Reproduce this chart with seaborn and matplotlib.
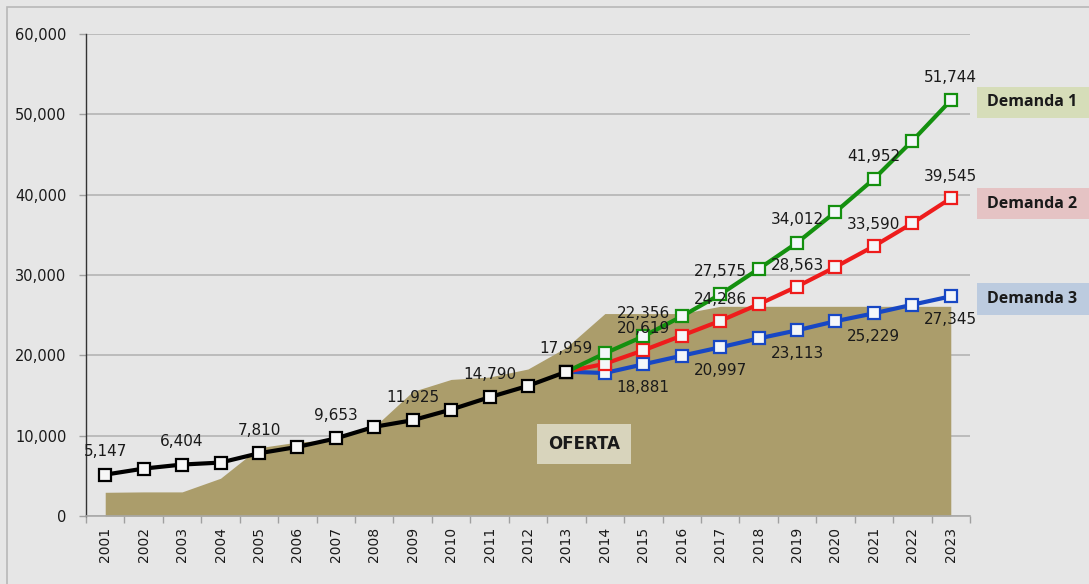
import numpy as np
import pandas as pd
import matplotlib
matplotlib.use("Agg")
import matplotlib.pyplot as plt
from matplotlib.patches import Rectangle
import seaborn as sns

# ---- data ---------------------------------------------------------------
years = list(range(2001, 2024))
hist_years = list(range(2001, 2014))
proj_years = list(range(2013, 2024))

historico = [5147, 5900, 6404, 6650, 7810, 8600, 9653, 11100, 11925, 13250,
             14790, 16200, 17959]
demanda1 = [17959, 20250, 22356, 24850, 27575, 30750, 34012, 37850, 41952,
            46700, 51744]
demanda2 = [17959, 18950, 20619, 22450, 24286, 26350, 28563, 31000, 33590,
            36450, 39545]
demanda3 = [17959, 17800, 18881, 19950, 20997, 22100, 23113, 24250, 25229,
            26300, 27345]
oferta = [2950, 3000, 3000, 4700, 8500, 9200, 9500, 11100, 15500, 17000,
          17300, 18300, 21000, 25200, 25200, 25200, 26100, 26100, 26100,
          26100, 26100, 26100, 26100]

hist_label_years = [2001, 2003, 2005, 2007, 2009, 2011, 2013]
proj_label_years = [2015, 2017, 2019, 2021, 2023]
series_names = ["Demanda 1", "Demanda 2", "Demanda 3"]

# ---- style --------------------------------------------------------------
BG = "#e6e6e6"
sns.set_theme(style="white")
plt.rcParams["font.family"] = ["DejaVu Sans"]

fig = plt.figure(figsize=(10.89, 5.84), dpi=100, facecolor=BG)
ax = fig.add_axes([86 / 1089, 1 - 516 / 584, (970 - 86) / 1089, (516 - 34) / 584])
ax.set_facecolor(BG)

pos = {y: i for i, y in enumerate(years)}

# supply area
ax.fill_between([pos[y] for y in years], oferta, 0, color="#ab9d6b",
                linewidth=0, zorder=1)

line_colors = ["#14900f", "#ee1c1c", "#1747c4"]
proj = pd.DataFrame({
    "x": [pos[y] for y in proj_years] * 3,
    "valor": demanda1 + demanda2 + demanda3,
    "serie": sum([[n] * len(proj_years) for n in series_names], []),
})
hist = pd.DataFrame({"x": [pos[y] for y in hist_years], "valor": historico})

for name, col in zip(series_names[::-1], line_colors[::-1]):
    sns.lineplot(data=proj[proj["serie"] == name], x="x", y="valor", ax=ax,
                 color=col, linewidth=3.0, marker="s", markersize=9,
                 markerfacecolor="#f4f7fa", markeredgecolor=col,
                 markeredgewidth=1.6, zorder=3, legend=False)
sns.lineplot(data=hist, x="x", y="valor", ax=ax, color="black", linewidth=3.0,
             marker="s", markersize=9, markerfacecolor="#f7f7f7",
             markeredgecolor="black", markeredgewidth=1.6, zorder=4,
             legend=False)

# value labels
lab_kw = dict(textcoords="offset points", ha="center", va="center",
              fontsize=11, color="#1a1a1a", zorder=6)
for y in hist_label_years:
    v = historico[hist_years.index(y)]
    ax.annotate(f"{v:,}", (pos[y], v), xytext=(0, 16.5), **lab_kw)
for y in proj_label_years:
    i = proj_years.index(y)
    ax.annotate(f"{demanda1[i]:,}", (pos[y], demanda1[i]), xytext=(0, 16.5), **lab_kw)
    ax.annotate(f"{demanda2[i]:,}", (pos[y], demanda2[i]), xytext=(0, 15.5), **lab_kw)
    ax.annotate(f"{demanda3[i]:,}", (pos[y], demanda3[i]), xytext=(0, -16.5), **lab_kw)

# axes
ax.set_xlim(-0.5, len(years) - 0.5)
ax.set_ylim(0, 60000)
ax.set_yticks(np.arange(0, 60001, 10000))
ax.set_yticklabels([f"{v:,}" for v in range(0, 60001, 10000)], fontsize=10.5,
                   color="#1a1a1a")
ax.set_xticks(range(len(years)))
ax.set_xticklabels([str(y) for y in years], rotation=90, fontsize=10,
                   color="#1a1a1a")
ax.set_xticks(np.arange(-0.5, len(years), 1), minor=True)
ax.tick_params(axis="x", which="major", length=0, pad=8)
ax.tick_params(axis="x", which="minor", length=5, width=1, color="#a0a0a0",
               direction="out", bottom=True)
ax.tick_params(axis="y", length=5, width=1, color="#a0a0a0", pad=9, left=True)
ax.set_xlabel("")
ax.set_ylabel("")
ax.grid(axis="y", color="#b4b4b4", linewidth=1.2)
ax.set_axisbelow(True)
for s in ["top", "right"]:
    ax.spines[s].set_visible(False)
ax.spines["left"].set_color("#333333")
ax.spines["left"].set_linewidth(1)
ax.spines["bottom"].set_color("#a8a8a8")
ax.spines["bottom"].set_linewidth(1.2)

# OFERTA tag
ax.text(pos[2013] + 0.45, 8950, "OFERTA", ha="center", va="center",
        fontsize=12, fontweight="bold", color="#1a1a1a", zorder=6,
        bbox=dict(boxstyle="square,pad=0.65", facecolor="#d8d4bc",
                  edgecolor="none"))

# series tags on the right
W, H = 1089, 584
tag_boxes = [(87, 118, "#d6ddb9"), (188, 219, "#e5c3c4"), (283, 315, "#bccbdf")]
for name, (top, bot, fc) in zip(series_names, tag_boxes):
    fig.patches.append(Rectangle((977 / W, 1 - bot / H), (W - 977) / W,
                                 (bot - top) / H, transform=fig.transFigure,
                                 facecolor=fc, edgecolor="none", zorder=0))
    fig.text(1032 / W, 1 - (top + bot) / 2 / H, name, ha="center", va="center",
             fontsize=11.5, fontweight="bold", color="#1a1a1a",
             family=["Open Sans", "DejaVu Sans"])

# outer frame
fig.patches.append(Rectangle((7 / W, -0.1), 1.2, 1 - 7 / H + 0.1,
                             transform=fig.transFigure, facecolor="none",
                             edgecolor="#b8b8b8", linewidth=1.2, zorder=0))

fig.savefig("out.png", dpi=100, facecolor=BG)
